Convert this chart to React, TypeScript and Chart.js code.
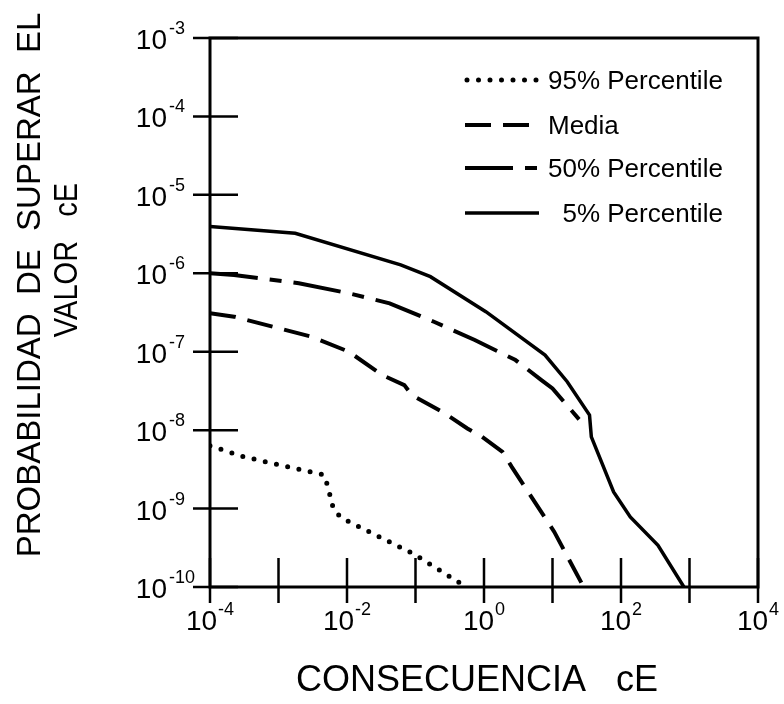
import React, { useEffect, useRef } from "react";
import { Chart, registerables } from "chart.js";

Chart.register(...registerables);

const FONT = '"Liberation Sans", Arial, Helvetica, sans-serif';

// Axis decades (exponents of 10)
const xTickExponents = [-4, -3, -2, -1, 0, 1, 2, 3, 4];
const xLabelExponents = [-4, -2, 0, 2, 4];
const yTickExponents = [-10, -9, -8, -7, -6, -5, -4, -3];

// Titles and legend text
const xTitle = "CONSECUENCIA   cE";
const yTitleLine1 = "PROBABILIDAD  DE  SUPERAR  EL";
const yTitleLine2 = "VALOR   cE";
const seriesLabels = ["95% Percentile", "Media", "50% Percentile", "  5% Percentile"];

// 95% Percentile (dotted)
const p95X = [1e-4, 3.15e-4, 4.57e-3, 5.18e-3, 6.31e-3, 8.09e-3, 0.0962, 0.505];
const p95Y = [6.31e-9, 4.56e-9, 2.69e-9, 1.99e-9, 1.0e-9, 7.69e-10, 2.61e-10, 1.05e-10];

// Media (dashed)
const mediaX = [1e-4, 2.25e-4, 3.07e-3, 0.01064, 0.0326, 0.0687, 0.0883, 0.2704, 0.5715, 0.9376, 1.862, 2.541, 10.62, 28.5];
const mediaY = [3.09e-7, 2.8e-7, 1.55e-7, 1.0e-7, 5.04e-8, 3.75e-8, 2.8e-8, 1.63e-8, 1.05e-8, 8.2e-9, 5.28e-9, 3.4e-9, 5.04e-10, 1.0e-10];

// 50% Percentile (dash-dot)
const p50X = [1e-4, 2.25e-4, 1.98e-3, 0.01064, 0.0419, 0.186, 0.733, 2.88, 6.89, 10.0, 28.8];
const p50Y = [1.0e-6, 9.53e-7, 7.46e-7, 5.56e-7, 4.14e-7, 2.41e-7, 1.41e-7, 7.83e-8, 4.35e-8, 3.4e-8, 1.16e-8];

// 5% Percentile (solid)
const p5X = [1e-4, 1.754e-3, 0.0608, 0.165, 1.064, 7.78, 16.4, 34.7, 36.9, 78.0, 136.5, 346.7, 828];
const p5Y = [3.94e-6, 3.24e-6, 1.28e-6, 9.06e-7, 3.24e-7, 9.06e-8, 4.14e-8, 1.56e-8, 8.22e-9, 1.63e-9, 7.82e-10, 3.4e-10, 1.0e-10];

const toPoints = (xs: number[], ys: number[]) => xs.map((x, i) => ({ x, y: ys[i] }));

const drawRotated = (ctx: any, text: string, font: string, baseX: number, centerY: number, sx: number) => {
  ctx.save();
  ctx.font = font;
  ctx.textAlign = "center";
  ctx.textBaseline = "alphabetic";
  ctx.translate(baseX, centerY);
  ctx.rotate(-Math.PI / 2);
  ctx.scale(sx, 1);
  ctx.fillText(text, 0, 0);
  ctx.restore();
};

const decorPlugin = {
  id: "decor",
  afterDraw(chart: any) {
    const { ctx, chartArea: a } = chart;
    const xs = chart.scales.x;
    const ys = chart.scales.y;
    ctx.save();
    ctx.strokeStyle = "#000";
    ctx.fillStyle = "#000";
    ctx.setLineDash([]);
    ctx.lineCap = "butt";

    // frame
    ctx.lineWidth = 3;
    ctx.strokeRect(a.left, a.top, a.right - a.left, a.bottom - a.top);

    // tick marks
    ctx.lineWidth = 2.5;
    ctx.beginPath();
    xTickExponents.forEach((e) => {
      const px = xs.getPixelForValue(Math.pow(10, e));
      ctx.moveTo(px, a.bottom - 29);
      ctx.lineTo(px, a.bottom + 16);
    });
    yTickExponents.forEach((e) => {
      const py = ys.getPixelForValue(Math.pow(10, e));
      ctx.moveTo(a.left - 17, py);
      ctx.lineTo(a.left + 28, py);
    });
    ctx.stroke();

    const mainFont = `28px ${FONT}`;
    const supFont = `18px ${FONT}`;

    // x tick labels
    ctx.textBaseline = "alphabetic";
    ctx.textAlign = "left";
    xLabelExponents.forEach((e) => {
      const px = xs.getPixelForValue(Math.pow(10, e));
      ctx.font = mainFont;
      const wm = ctx.measureText("10").width;
      ctx.font = supFont;
      const sup = String(e);
      const ws = ctx.measureText(sup).width;
      const start = px - (wm + 1 + ws) / 2;
      const base = a.bottom + 43;
      ctx.font = mainFont;
      ctx.fillText("10", start, base);
      ctx.font = supFont;
      ctx.fillText(sup, start + wm + 1, base - 15);
    });

    // y tick labels
    yTickExponents.forEach((e) => {
      const py = ys.getPixelForValue(Math.pow(10, e));
      ctx.font = mainFont;
      const wm = ctx.measureText("10").width;
      const right = a.left - 43;
      const base = py + 11;
      ctx.fillText("10", right - wm, base);
      ctx.font = supFont;
      ctx.fillText(String(e), right + 2, base - 15);
    });

    // axis titles
    ctx.font = `36px ${FONT}`;
    ctx.textAlign = "center";
    ctx.fillText(xTitle, 477, 691);

    drawRotated(ctx, yTitleLine1, `33px ${FONT}`, 40, 285, 1);
    drawRotated(ctx, yTitleLine2, `33px ${FONT}`, 77, 260, 0.88);

    // legend
    const rows = [80, 125, 168, 213];
    const x0 = 465;
    const x1 = 539;
    chart.data.datasets.forEach((ds: any, i: number) => {
      const yRow = rows[i];
      ctx.save();
      ctx.lineWidth = ds.borderWidth;
      ctx.lineCap = ds.borderCapStyle || "butt";
      ctx.setLineDash(ds.borderDash || []);
      ctx.beginPath();
      ctx.moveTo(i === 0 ? x0 + 2 : x0, yRow);
      ctx.lineTo(x1, yRow);
      ctx.stroke();
      ctx.restore();
      ctx.font = `26px ${FONT}`;
      ctx.textAlign = "left";
      ctx.textBaseline = "alphabetic";
      ctx.fillText(ds.label, 548, yRow + 8.5);
    });

    ctx.restore();
  },
};

export default function App() {
  const ref = useRef<HTMLCanvasElement>(null);

  useEffect(() => {
    const canvas = ref.current;
    if (!canvas) return;
    const chart = new Chart(canvas, {
      type: "line",
      data: {
        datasets: [
          {
            label: seriesLabels[0],
            data: toPoints(p95X, p95Y),
            borderColor: "#000",
            borderWidth: 5,
            borderDash: [0, 11.5],
            borderCapStyle: "round",
            pointRadius: 0,
            fill: false,
            tension: 0,
          },
          {
            label: seriesLabels[1],
            data: toPoints(mediaX, mediaY),
            borderColor: "#000",
            borderWidth: 4,
            borderDash: [26, 12],
            borderCapStyle: "butt",
            pointRadius: 0,
            fill: false,
            tension: 0,
          },
          {
            label: seriesLabels[2],
            data: toPoints(p50X, p50Y),
            borderColor: "#000",
            borderWidth: 4,
            borderDash: [48, 12, 12, 12],
            borderCapStyle: "butt",
            pointRadius: 0,
            fill: false,
            tension: 0,
          },
          {
            label: seriesLabels[3],
            data: toPoints(p5X, p5Y),
            borderColor: "#000",
            borderWidth: 3.5,
            borderDash: [],
            borderCapStyle: "butt",
            pointRadius: 0,
            fill: false,
            tension: 0,
          },
        ],
      },
      options: {
        responsive: false,
        animation: false,
        devicePixelRatio: 1,
        layout: { padding: { left: 210, right: 26, top: 38, bottom: 117 } },
        plugins: {
          legend: { display: false },
          tooltip: { enabled: false },
          title: { display: false },
        },
        scales: {
          x: { type: "logarithmic", min: 1e-4, max: 1e4, display: false },
          y: { type: "logarithmic", min: 1e-10, max: 1e-3, display: false },
        },
      },
      plugins: [decorPlugin],
    } as any);
    return () => chart.destroy();
  }, []);

  return (
    <div style={{ position: "absolute", left: 0, top: 0, width: 784, height: 704, background: "#fff" }}>
      <canvas ref={ref} width={784} height={704} style={{ display: "block", width: 784, height: 704 }} />
    </div>
  );
}
